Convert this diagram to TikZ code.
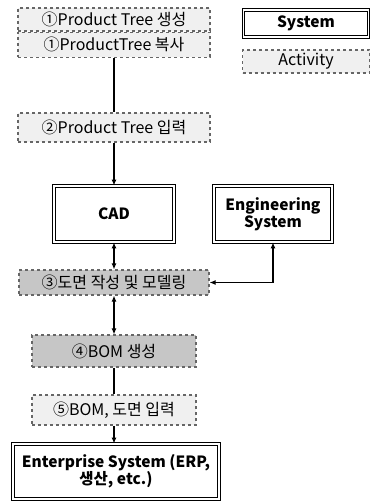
\documentclass[tikz,border=0pt]{standalone}
\usepackage{fontspec}
\setmainfont{Noto Sans CJK KR}
\usetikzlibrary{arrows.meta}
\tikzset{
	sysbox/.style={draw=black, line width=0.9pt, double=white, double distance=1.4pt, fill=white, inner sep=1pt, align=center, font=\fontsize{15.5}{17}\selectfont\bfseries},
	actbox/.style={draw=gray!80!black, dashed, fill=gray!12, inner sep=0pt, align=center, font=\fontsize{16}{17}\selectfont},
	actdark/.style={actbox, fill=gray!45}
}
\begin{document}
\begin{tikzpicture}[x=1pt, y=-1pt, >={Latex[length=6pt,width=5pt]}, line width=1.1pt]
	\useasboundingbox (0,0) rectangle (375,501);
	
	% --- legend ---
	\node[sysbox, minimum width=125pt, minimum height=27pt] (legsys) at (306,23.5) {System};
	\node[actbox, minimum width=127pt, minimum height=23pt] (legact) at (306,61.5) {Activity};
	
	% --- activities and systems ---
	\node[actbox, minimum width=192pt, minimum height=23pt] (ptnew) at (114,19.5) {①Product Tree 생성};
	\node[actbox, minimum width=192pt, minimum height=25pt, anchor=north] (ptcopy) at (ptnew.south) {①ProductTree 복사};
	\node[actbox, minimum width=192pt, minimum height=29pt] (ptin) at (114,127.5) {②Product Tree 입력};
	\node[sysbox, minimum width=120pt, minimum height=56pt] (cad) at (114,214) {CAD};
	\node[sysbox, minimum width=118pt, minimum height=56pt] (eng) at (273,214) {Engineering\\System};
	\node[actdark, minimum width=190pt, minimum height=25pt] (draw) at (114,282.5) {③도면 작성 및 모델링};
	\node[actdark, minimum width=164pt, minimum height=32pt] (bom) at (114,351) {④BOM 생성};
	\node[actbox, minimum width=164pt, minimum height=30pt] (bomin) at (114,410) {⑤BOM, 도면 입력};
	\node[sysbox, minimum width=206pt, minimum height=55pt] (erp) at (116,471.5) {Enterprise System (ERP,\\생산, etc.)};
	
	% --- connectors ---
	\draw (ptcopy) -- (ptin);
	\draw[->] (ptin) -- (cad);
	\draw[<->] (cad) -- (draw);
	\draw[<->] (eng.south) |- (draw.east);
	\draw[<->] (draw) -- (bom);
	\draw (bom) -- (bomin);
	\draw[->] (bomin) -- (bomin |- erp.north);
\end{tikzpicture}
\end{document}
